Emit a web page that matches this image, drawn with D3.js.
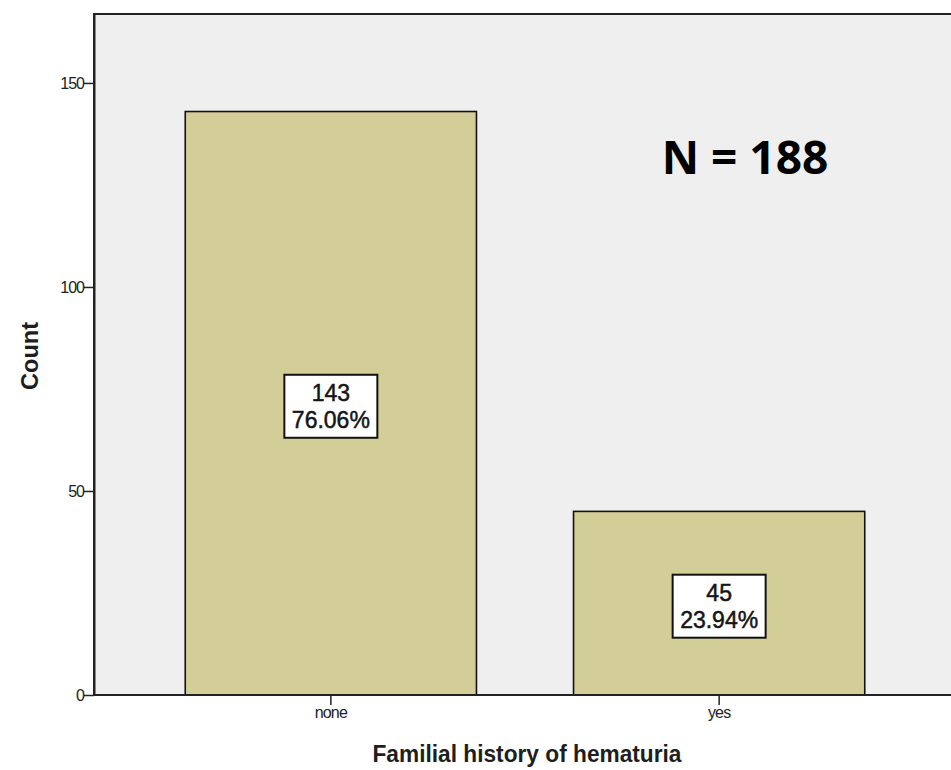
<!DOCTYPE html>
<html><head><meta charset="utf-8">
<script src="https://cdn.jsdelivr.net/npm/d3@7"></script>
<style>body{margin:0;background:#fff}svg{display:block}</style>
</head><body>
<svg id="chart" width="951" height="770"></svg>
<script>
const categories = ["none", "yes"];
const counts = [143, 45];
const percentLabels = ["76.06%", "23.94%"];
const yTicks = [0, 50, 100, 150];
const totalLabel = "N = 188";
const xTitle = "Familial history of hematuria";
const yTitle = "Count";

(function () {
const svg = d3.select("#chart");
const mLeft = 94, mTop = 14, mBottom = 695, mRight = 956;
const FONT = "Liberation Sans, Arial, sans-serif";

const x = d3.scaleBand().domain(categories).range([mLeft, mRight]).paddingInner(0.25).paddingOuter(0.235);
const y = d3.scaleLinear().domain([0, 166.9]).range([mBottom, mTop]);

svg.append("rect").attr("x", mLeft).attr("y", mTop).attr("width", 1000).attr("height", mBottom - mTop)
  .attr("fill", "#efefef").attr("stroke", "#222").attr("stroke-width", 2);

const data = categories.map((c, i) => ({c, v: counts[i], p: percentLabels[i]}));

svg.selectAll("rect.bar").data(data).join("rect").attr("class", "bar")
  .attr("x", d => x(d.c)).attr("width", x.bandwidth())
  .attr("y", d => y(d.v)).attr("height", d => y(0) - y(d.v))
  .attr("fill", "#d3ce97").attr("stroke", "#111").attr("stroke-width", 1.6);

const yAxis = d3.axisLeft(y).tickValues(yTicks).tickSize(10).tickSizeOuter(0).tickPadding(0).tickFormat(d3.format("d"));
const gy = svg.append("g").attr("transform", `translate(${mLeft},0)`).call(yAxis);
gy.select(".domain").attr("stroke", "#222").attr("stroke-width", 2);
gy.selectAll(".tick line").attr("stroke", "#222").attr("stroke-width", 1.5);
gy.selectAll(".tick text").attr("font-family", FONT).attr("font-size", 16).attr("fill", "#222")
  .attr("letter-spacing", -1);

const xAxis = d3.axisBottom(x).tickSize(10).tickSizeOuter(0).tickPadding(2);
const gx = svg.append("g").attr("transform", `translate(0,${mBottom})`).call(xAxis);
gx.select(".domain").remove();
gx.selectAll(".tick line").attr("stroke", "#222").attr("stroke-width", 1.5);
gx.selectAll(".tick text").attr("font-family", FONT).attr("font-size", 16).attr("fill", "#222").attr("letter-spacing", -0.8);

svg.append("line").attr("x1", mLeft).attr("x2", 951).attr("y1", mBottom).attr("y2", mBottom).attr("stroke", "#222").attr("stroke-width", 2);

const boxW = 93, boxH = 63;
const lab = svg.selectAll("g.lab").data(data).join("g").attr("class", "lab")
  .attr("transform", d => `translate(${x(d.c) + x.bandwidth() / 2},${(y(d.v) + y(0)) / 2 + 3})`);
lab.append("rect").attr("x", -boxW / 2).attr("y", -boxH / 2).attr("width", boxW).attr("height", boxH)
  .attr("fill", "#fff").attr("stroke", "#111").attr("stroke-width", 2);
lab.append("text").attr("y", -5).attr("text-anchor", "middle")
  .attr("font-family", FONT).attr("font-size", 23).attr("fill", "#161616")
  .attr("stroke", "#161616").attr("stroke-width", 0.5)
  .text(d => d.v);
lab.append("text").attr("y", 22).attr("text-anchor", "middle")
  .attr("font-family", FONT).attr("font-size", 23).attr("fill", "#161616")
  .attr("stroke", "#161616").attr("stroke-width", 0.5)
  .text(d => d.p);

svg.append("text").attr("x", 527).attr("y", 762).attr("text-anchor", "middle")
  .attr("font-family", FONT).attr("font-weight", "bold").attr("font-size", 24).attr("fill", "#1e1e1e")
  .attr("textLength", 309).attr("lengthAdjust", "spacingAndGlyphs")
  .text(xTitle);
svg.append("text").attr("transform", "translate(38,356) rotate(-90)").attr("text-anchor", "middle")
  .attr("font-family", FONT).attr("font-weight", "bold").attr("font-size", 24).attr("fill", "#1e1e1e")
  .attr("textLength", 68).attr("lengthAdjust", "spacingAndGlyphs")
  .text(yTitle);

svg.append("text").attr("x", 745).attr("y", 174).attr("text-anchor", "middle")
  .attr("font-family", "Open Sans, Noto Sans, sans-serif").attr("font-weight", "bold").attr("font-size", 46).attr("fill", "#000")
  .text(totalLabel);
})();
</script>
</body></html>
